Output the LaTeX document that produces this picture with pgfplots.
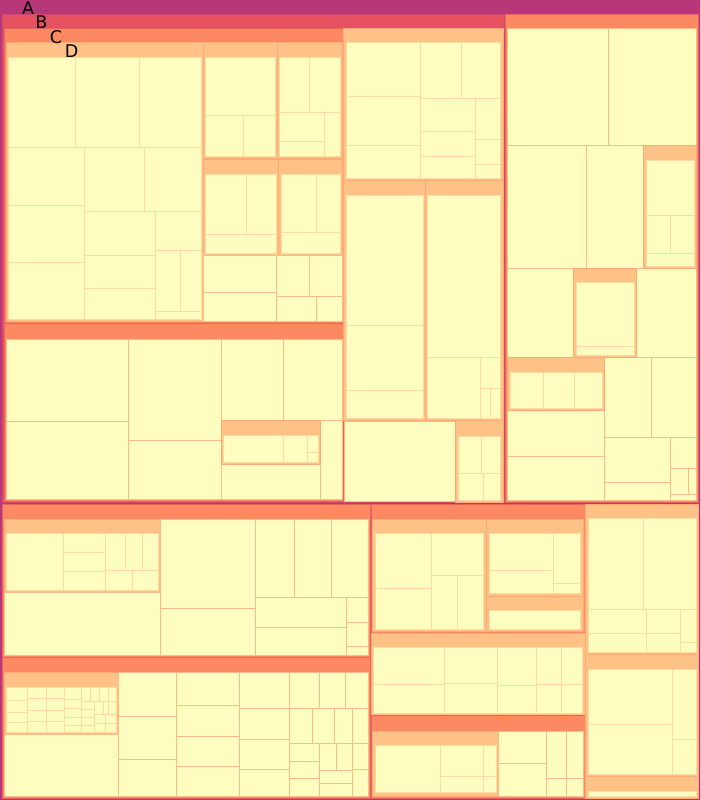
\documentclass[border=0pt]{standalone}
\usepackage{fontspec}
\setmainfont{DejaVu Sans}
\usepackage{pgfplots}
\pgfplotsset{compat=1.18}

% fills and edges, one pair per level (colour by height of the node)
\definecolor{cA}{HTML}{B73779}\definecolor{cAe}{HTML}{B73779}
\definecolor{cB}{HTML}{E75263}\definecolor{cBe}{HTML}{D24A69}
\definecolor{cC}{HTML}{FC8961}\definecolor{cCe}{HTML}{E3655F}
\definecolor{cD}{HTML}{FEC287}\definecolor{cDe}{HTML}{FDAA77}
\definecolor{cY}{HTML}{FCFDBF}\definecolor{cYe}{HTML}{FEDBA0}
\definecolor{cZ}{HTML}{FCFDBF}\definecolor{cZe}{HTML}{FDBB8A}

% \N{level}{x0}{y0}{x1}{y1} -- one rectangle, in pixel units
\newcommand\N[5]{\addplot[fill=#1,draw=#1e] coordinates {(#2,#3) (#4,#3) (#4,#5) (#2,#5)} --cycle;}

\begin{document}
\begin{tikzpicture}
\begin{axis}[
    width=699pt, height=800pt, scale only axis,
    xmin=0, xmax=699, ymin=0, ymax=800,
    y dir=reverse, hide axis, no markers,
    every axis plot/.append style={line width=1pt},
]
% root
\N{cA}{0}{2}{699}{800}

% ---- top left block
\N{cB}{2}{16}{504}{503}
\N{cC}{4}{30}{343}{324}
\N{cD}{6}{44}{203}{322}
\N{cY}{8}{59}{75}{149}
\N{cY}{75}{59}{139}{149}
\N{cY}{139}{59}{201}{149}
\N{cY}{8}{149}{84}{207}
\N{cY}{84}{149}{144}{213}
\N{cY}{144}{149}{201}{213}
\N{cY}{8}{207}{84}{264}
\N{cY}{8}{264}{84}{320}
\N{cY}{84}{213}{155}{257}
\N{cY}{84}{257}{155}{289}
\N{cY}{84}{289}{155}{320}
\N{cY}{155}{213}{201}{252}
\N{cY}{155}{252}{180}{312}
\N{cY}{180}{252}{201}{312}
\N{cY}{155}{312}{201}{320}
\N{cD}{203}{44}{277}{160}
\N{cY}{205}{59}{275}{117}
\N{cY}{205}{117}{243}{158}
\N{cY}{243}{117}{275}{158}
\N{cD}{277}{44}{342}{160}
\N{cY}{279}{59}{309}{114}
\N{cY}{309}{59}{340}{114}
\N{cY}{279}{114}{324}{143}
\N{cY}{279}{143}{324}{158}
\N{cY}{324}{114}{340}{158}
\N{cD}{203}{161}{278}{257}
\N{cY}{205}{176}{246}{236}
\N{cY}{246}{176}{276}{236}
\N{cY}{205}{236}{276}{255}
\N{cD}{278}{161}{342}{257}
\N{cY}{281}{176}{316}{234}
\N{cY}{316}{176}{340}{234}
\N{cY}{281}{234}{340}{255}
\N{cZ}{203}{257}{276}{293}
\N{cZ}{203}{293}{276}{322}
\N{cZ}{276}{257}{309}{297}
\N{cZ}{309}{257}{342}{297}
\N{cZ}{276}{297}{316}{322}
\N{cZ}{316}{297}{342}{322}

\N{cC}{4}{324}{343}{502}
\N{cZ}{6}{340}{128}{422}
\N{cZ}{6}{422}{128}{500}
\N{cZ}{128}{340}{221}{441}
\N{cZ}{128}{441}{221}{500}
\N{cZ}{221}{340}{283}{421}
\N{cZ}{283}{340}{342}{421}
\N{cZ}{221}{465}{320}{500}
\N{cZ}{320}{421}{342}{500}
\N{cD}{221}{421}{320}{465}
\N{cY}{223}{436}{283}{463}
\N{cY}{283}{436}{307}{463}
\N{cY}{307}{436}{318}{453}
\N{cY}{307}{453}{318}{463}

\N{cD}{343}{30}{503}{182}
\N{cY}{346}{44}{420}{98}
\N{cY}{346}{98}{420}{147}
\N{cY}{346}{147}{420}{180}
\N{cY}{420}{44}{461}{100}
\N{cY}{461}{44}{500}{100}
\N{cY}{420}{100}{475}{133}
\N{cY}{420}{133}{475}{158}
\N{cY}{420}{158}{475}{180}
\N{cY}{475}{100}{500}{141}
\N{cY}{475}{141}{500}{166}
\N{cY}{475}{166}{500}{180}
\N{cD}{343}{182}{425}{421}
\N{cY}{346}{197}{423}{326}
\N{cY}{346}{326}{423}{391}
\N{cY}{346}{391}{423}{419}
\N{cD}{425}{182}{503}{421}
\N{cY}{427}{197}{500}{358}
\N{cY}{427}{358}{480}{419}
\N{cY}{480}{358}{500}{389}
\N{cY}{480}{389}{490}{419}
\N{cY}{490}{389}{500}{419}
\N{cZ}{344}{422}{455}{502}
\N{cD}{455}{421}{503}{503}
\N{cY}{458}{437}{481}{474}
\N{cY}{481}{437}{500}{474}
\N{cY}{458}{474}{483}{501}
\N{cY}{483}{474}{500}{501}

% ---- top right block
\N{cC}{505}{16}{697}{503}
\N{cZ}{507}{30}{607}{147}
\N{cZ}{607}{30}{695}{147}
\N{cZ}{507}{147}{585}{269}
\N{cZ}{585}{147}{642}{269}
\N{cZ}{507}{269}{572}{358}
\N{cZ}{635}{269}{695}{358}
\N{cZ}{507}{411}{603}{457}
\N{cZ}{507}{457}{603}{501}
\N{cZ}{603}{358}{650}{438}
\N{cZ}{650}{358}{695}{438}
\N{cZ}{603}{438}{669}{483}
\N{cZ}{603}{483}{669}{501}
\N{cZ}{669}{438}{695}{469}
\N{cZ}{669}{469}{687}{495}
\N{cZ}{687}{469}{695}{495}
\N{cZ}{669}{495}{695}{501}
\N{cD}{642}{147}{695}{269}
\N{cY}{645}{162}{693}{217}
\N{cY}{645}{217}{669}{255}
\N{cY}{669}{217}{693}{255}
\N{cY}{645}{255}{693}{267}
\N{cD}{572}{269}{635}{358}
\N{cY}{575}{283}{633}{347}
\N{cY}{575}{347}{633}{356}
\N{cD}{507}{358}{603}{411}
\N{cY}{510}{373}{542}{409}
\N{cY}{542}{373}{573}{409}
\N{cY}{573}{373}{601}{409}

% ---- bottom left, upper
\N{cC}{2}{505}{370}{658}
\N{cD}{4}{520}{160}{593}
\N{cY}{6}{534}{63}{591}
\N{cY}{63}{534}{105}{553}
\N{cY}{63}{553}{105}{572}
\N{cY}{63}{572}{105}{591}
\N{cY}{105}{534}{125}{571}
\N{cY}{125}{534}{142}{571}
\N{cY}{142}{534}{158}{571}
\N{cY}{105}{571}{132}{591}
\N{cY}{132}{571}{158}{591}
\N{cZ}{4}{593}{160}{656}
\N{cZ}{160}{520}{255}{609}
\N{cZ}{160}{609}{255}{656}
\N{cZ}{255}{520}{294}{598}
\N{cZ}{294}{520}{331}{598}
\N{cZ}{331}{520}{368}{598}
\N{cZ}{255}{598}{346}{628}
\N{cZ}{255}{628}{346}{656}
\N{cZ}{346}{598}{368}{623}
\N{cZ}{346}{623}{368}{647}
\N{cZ}{346}{647}{368}{656}

% ---- bottom left, lower
\N{cC}{2}{658}{370}{798}
\N{cD}{4}{673}{118}{735}
\N{cY}{6}{688}{27}{701}
\N{cY}{6}{701}{27}{713}
\N{cY}{6}{713}{27}{723}
\N{cY}{6}{723}{27}{733}
\N{cY}{27}{688}{46}{699}
\N{cY}{27}{699}{46}{711}
\N{cY}{27}{711}{46}{722}
\N{cY}{27}{722}{46}{733}
\N{cY}{46}{688}{64}{699}
\N{cY}{46}{699}{64}{711}
\N{cY}{46}{711}{64}{722}
\N{cY}{46}{722}{64}{733}
\N{cY}{64}{688}{81}{700}
\N{cY}{64}{700}{81}{709}
\N{cY}{64}{709}{81}{718}
\N{cY}{64}{718}{81}{726}
\N{cY}{64}{726}{81}{733}
\N{cY}{81}{688}{90}{702}
\N{cY}{90}{688}{99}{702}
\N{cY}{99}{688}{108}{702}
\N{cY}{108}{688}{116}{702}
\N{cY}{81}{702}{94}{710}
\N{cY}{81}{710}{94}{718}
\N{cY}{81}{718}{94}{726}
\N{cY}{81}{726}{94}{733}
\N{cY}{94}{702}{103}{715}
\N{cY}{103}{702}{108}{715}
\N{cY}{108}{702}{116}{715}
\N{cY}{94}{715}{105}{724}
\N{cY}{105}{715}{116}{724}
\N{cY}{94}{724}{105}{733}
\N{cY}{105}{724}{116}{733}
\N{cZ}{4}{735}{118}{796}
\N{cZ}{118}{673}{176}{717}
\N{cZ}{118}{717}{176}{760}
\N{cZ}{118}{760}{176}{796}
\N{cZ}{176}{673}{239}{706}
\N{cZ}{176}{706}{239}{737}
\N{cZ}{176}{737}{239}{767}
\N{cZ}{176}{767}{239}{796}
\N{cZ}{239}{673}{289}{709}
\N{cZ}{239}{709}{289}{740}
\N{cZ}{239}{740}{289}{770}
\N{cZ}{239}{770}{289}{796}
\N{cZ}{289}{673}{319}{709}
\N{cZ}{319}{673}{345}{709}
\N{cZ}{345}{673}{368}{709}
\N{cZ}{289}{709}{312}{744}
\N{cZ}{312}{709}{334}{744}
\N{cZ}{334}{709}{352}{744}
\N{cZ}{352}{709}{368}{744}
\N{cZ}{289}{744}{319}{762}
\N{cZ}{289}{762}{319}{779}
\N{cZ}{289}{779}{319}{796}
\N{cZ}{319}{744}{336}{771}
\N{cZ}{336}{744}{352}{771}
\N{cZ}{319}{771}{352}{784}
\N{cZ}{319}{784}{352}{796}
\N{cZ}{352}{744}{368}{770}
\N{cZ}{352}{770}{368}{796}

% ---- bottom middle
\N{cC}{371}{505}{584}{634}
\N{cD}{372}{520}{486}{632}
\N{cY}{375}{534}{431}{589}
\N{cY}{375}{589}{431}{630}
\N{cY}{431}{534}{483}{576}
\N{cY}{431}{576}{457}{630}
\N{cY}{457}{576}{483}{630}
\N{cD}{486}{520}{582}{597}
\N{cY}{489}{534}{552}{571}
\N{cY}{489}{571}{552}{594}
\N{cY}{552}{534}{579}{584}
\N{cY}{552}{584}{579}{594}
\N{cD}{486}{597}{582}{632}
\N{cY}{489}{611}{579}{630}

\N{cD}{371}{634}{584}{716}
\N{cY}{373}{648}{444}{685}
\N{cY}{373}{685}{444}{714}
\N{cY}{444}{648}{497}{684}
\N{cY}{444}{684}{497}{714}
\N{cY}{497}{648}{535}{686}
\N{cY}{497}{686}{535}{714}
\N{cY}{535}{648}{560}{685}
\N{cY}{535}{685}{560}{714}
\N{cY}{560}{648}{581}{685}
\N{cY}{560}{685}{581}{714}

\N{cC}{371}{716}{584}{798}
\N{cD}{372}{732}{498}{796}
\N{cY}{375}{746}{440}{793}
\N{cY}{440}{746}{483}{777}
\N{cY}{440}{777}{483}{793}
\N{cY}{483}{746}{496}{777}
\N{cY}{483}{777}{496}{793}
\N{cZ}{498}{732}{545}{764}
\N{cZ}{498}{764}{545}{796}
\N{cZ}{545}{732}{565}{779}
\N{cZ}{545}{779}{565}{796}
\N{cZ}{565}{732}{582}{779}
\N{cZ}{565}{779}{582}{796}

% ---- bottom right
\N{cD}{584}{505}{697}{655}
\N{cY}{587}{519}{642}{610}
\N{cY}{642}{519}{695}{610}
\N{cY}{587}{610}{645}{634}
\N{cY}{587}{634}{645}{653}
\N{cY}{645}{610}{679}{634}
\N{cY}{645}{634}{679}{653}
\N{cY}{679}{610}{695}{643}
\N{cY}{679}{643}{695}{653}
\N{cD}{584}{655}{697}{777}
\N{cY}{587}{670}{671}{725}
\N{cY}{587}{725}{671}{775}
\N{cY}{671}{670}{695}{740}
\N{cY}{671}{740}{695}{775}
\N{cD}{584}{777}{697}{798}
\N{cY}{587}{792}{695}{796}

% level labels
\node[anchor=base west, inner sep=0pt, font=\fontsize{17.5}{17.5}\selectfont] at (axis cs:22,15.5) {A};
\node[anchor=base west, inner sep=0pt, font=\fontsize{17.5}{17.5}\selectfont] at (axis cs:35,30) {B};
\node[anchor=base west, inner sep=0pt, font=\fontsize{17.5}{17.5}\selectfont] at (axis cs:49.5,44.5) {C};
\node[anchor=base west, inner sep=0pt, font=\fontsize{17.5}{17.5}\selectfont] at (axis cs:64.5,59) {D};
\end{axis}
\end{tikzpicture}
\end{document}
